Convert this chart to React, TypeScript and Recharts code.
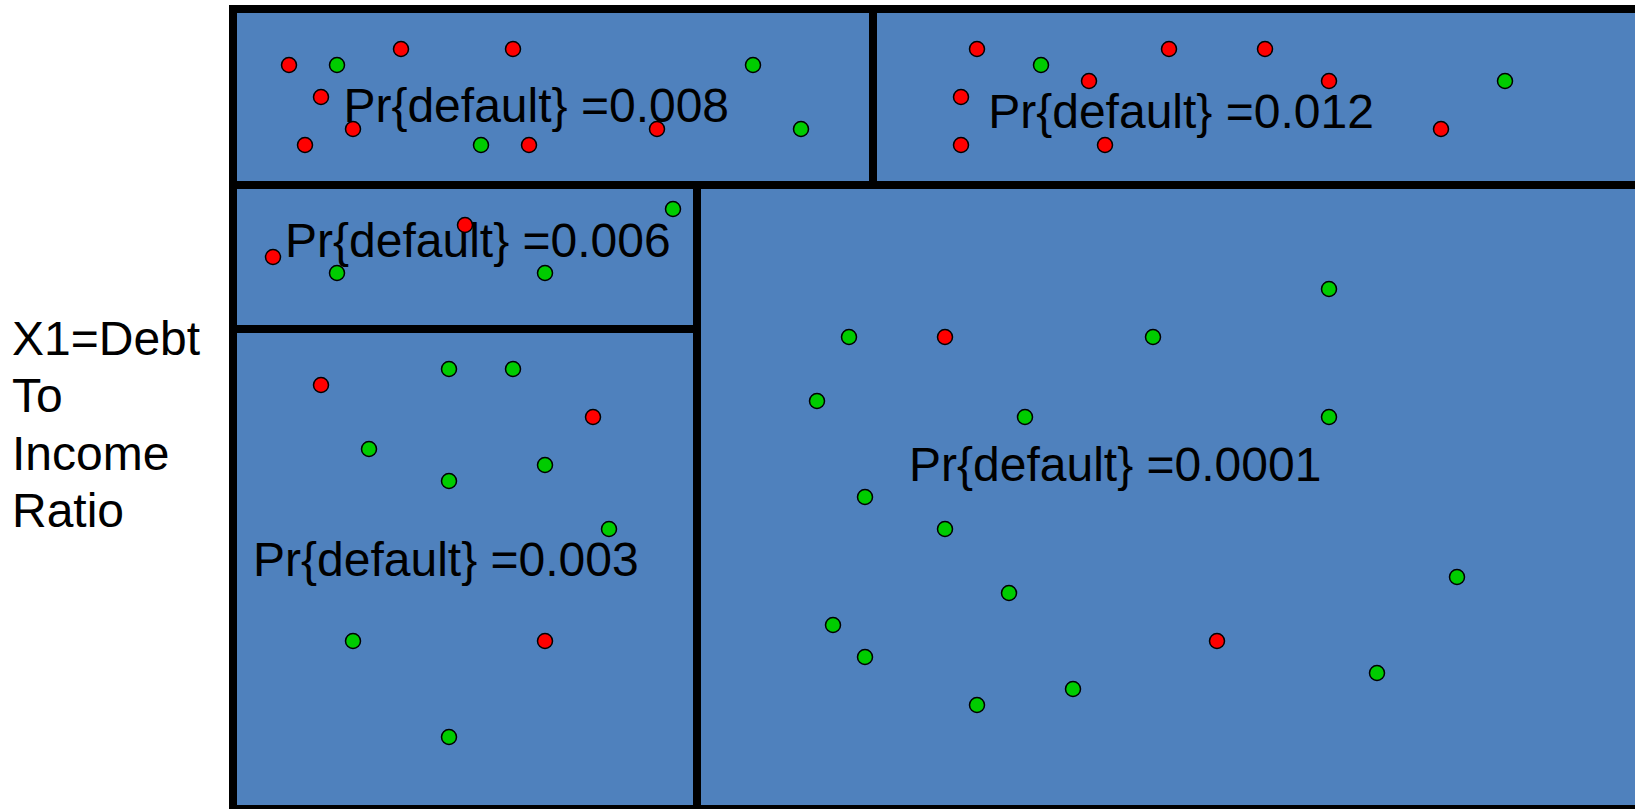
import React from 'react';
import { ScatterChart, Scatter, XAxis, YAxis, ReferenceArea } from 'recharts';

// Axis title (left side)
const yTitleLines = ['X1=Debt', 'To', 'Income', 'Ratio'];

// Partition cells (chart units: x 0..90, y 0..100)
const cellX1 = [0, 40, 0, 0, 29];
const cellX2 = [40, 90, 29, 29, 90];
const cellY1 = [78, 78, 60, 0, 0];
const cellY2 = [100, 100, 78, 60, 78];
const cellProb = ['0.008', '0.012', '0.006', '0.003', '0.0001'];
const labelX = [6.9, 47.2, 3.25, 1.25, 42.25];
const labelY = [85.9, 85.1, 69.0, 29.1, 41.0];

// Defaulted borrowers (red)
const defaultX = [3.5, 10.5, 17.5, 5.5, 7.5, 4.5, 18.5, 26.5, 46.5, 58.5, 64.5, 53.5, 68.5, 45.5, 45.5, 54.5, 75.5, 2.5, 14.5, 5.5, 22.5, 19.5, 44.5, 61.5];
const defaultY = [93, 95, 95, 89, 85, 83, 83, 85, 95, 95, 95, 91, 91, 89, 83, 83, 85, 69, 73, 53, 49, 21, 59, 21];

// Non-defaulted borrowers (green)
const goodX = [6.5, 15.5, 32.5, 35.5, 50.5, 79.5, 6.5, 19.5, 27.5, 13.5, 17.5, 8.5, 19.5, 13.5, 23.5, 7.5, 13.5, 68.5, 38.5, 57.5, 36.5, 49.5, 68.5, 39.5, 44.5, 76.5, 48.5, 37.5, 39.5, 71.5, 52.5, 46.5];
const goodY = [93, 83, 93, 85, 93, 91, 67, 67, 75, 55, 55, 45, 43, 41, 35, 21, 9, 65, 59, 59, 51, 49, 49, 39, 35, 29, 27, 23, 19, 17, 15, 13];

const BLUE = '#4f81bd';
const RED = '#ff0000';
const GREEN = '#00cc00';
const FONT = '"Liberation Sans", Arial, sans-serif';

const defaultData = defaultX.map((x, i) => ({ x, y: defaultY[i] }));
const goodData = goodX.map((x, i) => ({ x, y: goodY[i] }));
const labelData = labelX.map((x, i) => ({ x, y: labelY[i], text: `Pr{default} =${cellProb[i]}` }));

const dotShape = (color: string) => (p: any) => (
  <circle cx={p.cx} cy={p.cy} r={7.5} fill={color} stroke="#000" strokeWidth={1.5} />
);

const labelShape = (p: any) => (
  <text x={p.cx} y={p.cy} fontSize={48} fontFamily={FONT} fill="#000" textAnchor="start">
    {p.payload.text}
  </text>
);

function YTitle(props: any) {
  const vb = props.viewBox || { x: 0, y: 9, width: 233, height: 800 };
  const cy = vb.y + vb.height / 2;
  const lh = 57.5;
  return (
    <text x={vb.x + 12} y={cy - lh + 3} fontSize={48} fontFamily={FONT} fill="#000">
      {yTitleLines.map((l, i) => (
        <tspan key={l} x={vb.x + 12} dy={i === 0 ? 0 : lh}>
          {l}
        </tspan>
      ))}
    </text>
  );
}

export default function App() {
  return (
    <div
      style={{
        position: 'fixed',
        left: 0,
        top: 0,
        width: 1635,
        height: 809,
        overflow: 'hidden',
        background: '#fff',
      }}
    >
      <ScatterChart width={1680} height={820} margin={{ top: 9, right: 7, bottom: 11, left: 0 }}>
        <XAxis type="number" dataKey="x" domain={[0, 90]} allowDataOverflow hide />
        <YAxis
          type="number"
          dataKey="y"
          domain={[0, 100]}
          allowDataOverflow
          width={233}
          tick={false}
          axisLine={false}
          tickLine={false}
          label={<YTitle />}
        />
        {cellX1.map((x1, i) => (
          <ReferenceArea
            key={i}
            x1={x1}
            x2={cellX2[i]}
            y1={cellY1[i]}
            y2={cellY2[i]}
            fill={BLUE}
            fillOpacity={1}
            stroke="#000"
            strokeWidth={8}
            ifOverflow="visible"
          />
        ))}
        <Scatter data={labelData} shape={labelShape} isAnimationActive={false} />
        <Scatter data={defaultData} shape={dotShape(RED)} isAnimationActive={false} />
        <Scatter data={goodData} shape={dotShape(GREEN)} isAnimationActive={false} />
      </ScatterChart>
    </div>
  );
}
